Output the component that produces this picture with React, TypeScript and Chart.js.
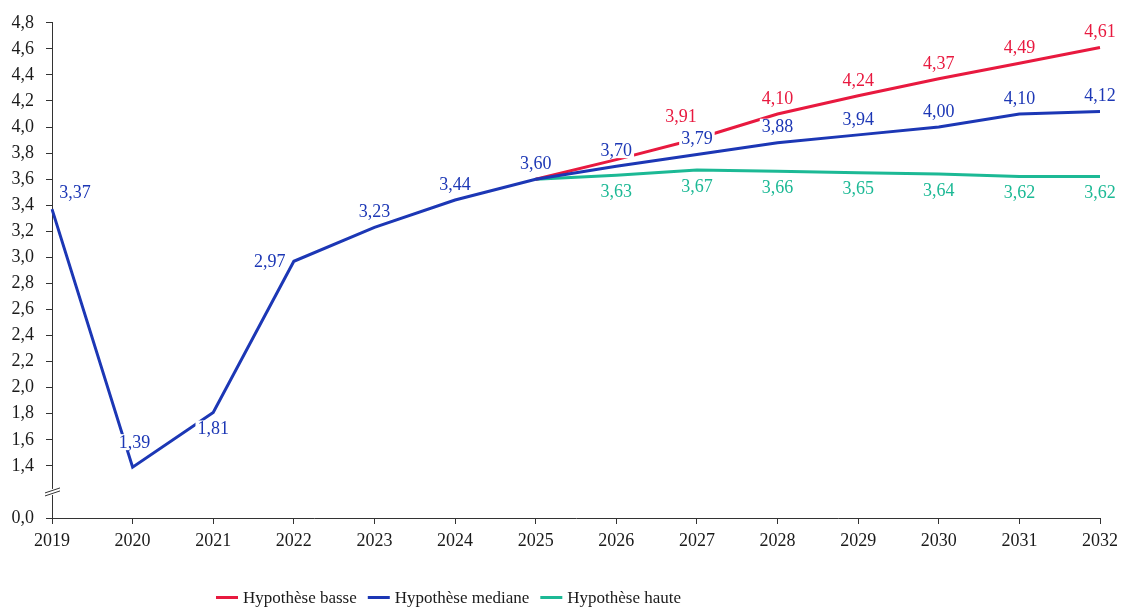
import React, { useEffect, useRef } from "react";
import { Chart, registerables } from "chart.js";
Chart.register(...registerables);

// ---- data ----
const years = ["2019", "2020", "2021", "2022", "2023", "2024", "2025", "2026", "2027", "2028", "2029", "2030", "2031", "2032"];
const basse = [null, null, null, null, null, null, 3.6, 3.75, 3.91, 4.1, 4.24, 4.37, 4.49, 4.61];
const mediane = [3.37, 1.39, 1.81, 2.97, 3.23, 3.44, 3.6, 3.7, 3.79, 3.88, 3.94, 4.0, 4.1, 4.12];
const haute = [null, null, null, null, null, null, 3.6, 3.63, 3.67, 3.66, 3.65, 3.64, 3.62, 3.62];
const seriesNames = ["Hypothèse basse", "Hypothèse mediane", "Hypothèse haute"];
// axis: bottom value shown as 0,0 (broken axis), hidden step just above it
const yAxisMin = 1.0;
const yAxisMax = 4.8;
const yAxisStep = 0.2;
const yBreakValue = 1.2;

// ---- styles ----
const COLORS = ["#E8193F", "#1C37B5", "#1CB995"];
const FONT = '"Liberation Serif", "Times New Roman", serif';

const basseLabelPos = ["none", "none", "none", "none", "none", "none", "none", "none", "aboveLeft", "above", "above", "above", "above", "above"];
const medianeLabelPos = ["aboveRight", "aboveHigh", "below", "left", "above", "above", "above", "above", "above", "above", "above", "above", "above", "above"];
const hauteLabelPos = ["none", "none", "none", "none", "none", "none", "none", "below", "below", "below", "below", "below", "below", "below"];
const placements = [basseLabelPos, medianeLabelPos, hauteLabelPos];
const OFFSETS: Record<string, [number, number]> = {
  above: [0, -16],
  below: [0, 16],
  left: [-24, 0],
  aboveRight: [23, -17],
  aboveHigh: [2, -25],
  aboveLeft: [-16, -23],
};

const fmt = (v: number, d: number) => v.toFixed(d).replace(".", ",");
const near = (a: number, b: number) => Math.abs(a - b) < 1e-6;

const labelPlugin = {
  id: "valueLabels",
  afterDatasetsDraw(chart: any) {
    const ctx = chart.ctx;
    ctx.save();
    ctx.font = `18px ${FONT}`;
    ctx.textAlign = "center";
    ctx.textBaseline = "middle";
    for (const di of [0, 2, 1]) {
      const ds = chart.data.datasets[di];
      const meta = chart.getDatasetMeta(di);
      const pos = placements[di];
      ds.data.forEach((v: number | null, i: number) => {
        if (v == null || pos[i] === "none") return;
        const pt = meta.data[i];
        const [dx, dy] = OFFSETS[pos[i]];
        const x = pt.x + dx;
        const y = pt.y + dy;
        const text = fmt(v, 2);
        const w = ctx.measureText(text).width;
        ctx.fillStyle = "#ffffff";
        ctx.fillRect(x - w / 2 - 2, y - 8, w + 4, 16);
        ctx.fillStyle = COLORS[di];
        ctx.fillText(text, x, y + 1);
      });
    }
    ctx.restore();
  },
  afterDraw(chart: any) {
    const ctx = chart.ctx;
    const ys = chart.scales.y;
    const area = chart.chartArea;
    // axis break
    const by = ys.getPixelForValue(yBreakValue);
    const ax = area.left;
    ctx.save();
    ctx.fillStyle = "#ffffff";
    ctx.fillRect(ax - 2, by - 3, 5, 6);
    ctx.strokeStyle = "#333333";
    ctx.lineWidth = 1;
    for (const off of [-1.5, 1.5]) {
      ctx.beginPath();
      ctx.moveTo(ax - 7, by + 2.5 + off);
      ctx.lineTo(ax + 8, by - 2.5 + off);
      ctx.stroke();
    }
    // legend
    ctx.font = `17px ${FONT}`;
    ctx.textBaseline = "alphabetic";
    ctx.textAlign = "left";
    let x = 216;
    const yLine = 597.5;
    seriesNames.forEach((name, i) => {
      ctx.strokeStyle = COLORS[i];
      ctx.lineWidth = 3;
      ctx.beginPath();
      ctx.moveTo(x, yLine);
      ctx.lineTo(x + 22, yLine);
      ctx.stroke();
      x += 27;
      ctx.fillStyle = "#1a1a1a";
      ctx.fillText(name, x, 602.5);
      x += ctx.measureText(name).width + 11;
    });
    ctx.restore();
  },
};

export default function App() {
  const ref = useRef<HTMLCanvasElement | null>(null);
  useEffect(() => {
    document.body.style.margin = "0";
    const canvas = ref.current;
    if (!canvas) return;
    const mk = (data: (number | null)[], i: number) => ({
      label: seriesNames[i],
      data,
      borderColor: COLORS[i],
      backgroundColor: COLORS[i],
      borderWidth: 3,
      pointRadius: 0,
      tension: 0,
      fill: false,
      spanGaps: false,
      order: i === 1 ? 0 : i === 0 ? 1 : 2,
    });
    const chart = new Chart(canvas, {
      type: "line",
      data: {
        labels: years,
        datasets: [mk(basse, 0), mk(mediane, 1), mk(haute, 2)],
      },
      plugins: [labelPlugin],
      options: {
        animation: false,
        responsive: true,
        maintainAspectRatio: false,
        layout: { padding: { left: 0, right: 24, top: 17, bottom: 50 } },
        plugins: { legend: { display: false }, tooltip: { enabled: false } },
        scales: {
          x: {
            type: "category",
            offset: false,
            grid: { display: true, drawOnChartArea: false, drawTicks: true, tickLength: 6, color: "#333333" },
            border: { display: true, color: "#333333", width: 1 },
            ticks: { color: "#1a1a1a", font: { family: FONT, size: 18 }, padding: 6, maxRotation: 0, autoSkip: false },
            afterFit: (s: any) => { s.height = 40; },
          },
          y: {
            type: "linear",
            min: yAxisMin,
            max: yAxisMax,
            grid: {
              display: true,
              drawOnChartArea: false,
              drawTicks: true,
              tickLength: 6,
              tickColor: (c: any) => (c.tick && near(c.tick.value, yBreakValue) ? "rgba(0,0,0,0)" : "#333333"),
            },
            border: { display: true, color: "#333333", width: 1 },
            ticks: {
              stepSize: yAxisStep,
              color: "#1a1a1a",
              font: { family: FONT, size: 18 },
              padding: 12,
              callback: (v: any) => {
                const n = Number(v);
                if (near(n, yAxisMin)) return "0,0";
                if (near(n, yBreakValue)) return "";
                return fmt(n, 1);
              },
            },
            afterFit: (s: any) => { s.width = 52; },
          },
        },
      },
    });
    return () => chart.destroy();
  }, []);
  return (
    <div style={{ width: 1124, height: 608, position: "relative" }}>
      <canvas ref={ref} />
    </div>
  );
}
